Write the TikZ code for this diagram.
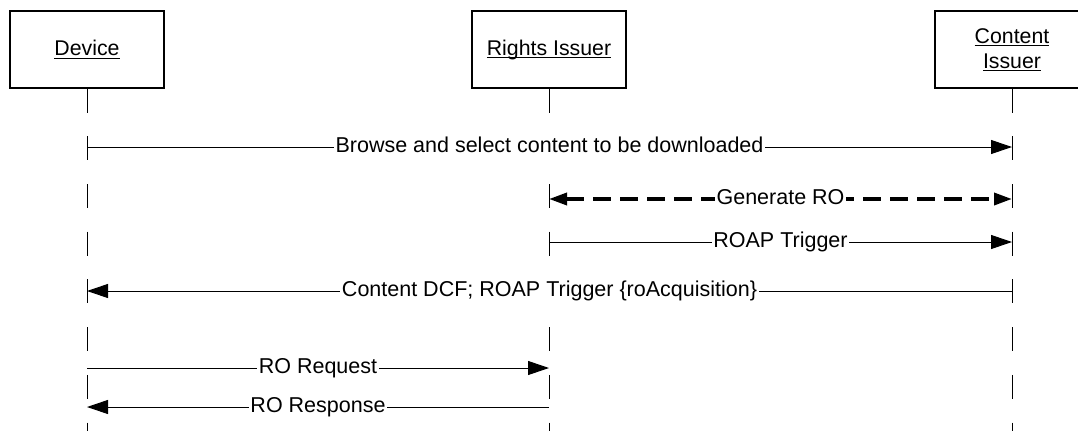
\documentclass[tikz,border=0pt]{standalone}
\usepackage{fontspec}
\setmainfont{Liberation Sans}
\usetikzlibrary{arrows.meta}
\newcommand{\ulined}[1]{\setbox0\hbox{#1}\rlap{\rule[-2.5pt]{\wd0}{0.9pt}}\box0}

\begin{document}
\begin{tikzpicture}[x=1pt,y=-1pt]
\tikzstyle{actor} = [draw=black, line width=1.2pt, minimum width=154pt, minimum height=77pt, align=center, font=\fontsize{21.3}{25}\selectfont]
\tikzstyle{lifeline} = [draw=black, line width=1pt, dash pattern=on 24pt off 23.7pt]
\tikzstyle{msg} = [draw=black, line width=1pt, -{Triangle[length=21pt,width=14pt]}]
\tikzstyle{boldmsg} = [draw=black, line width=3.5pt, dash pattern=on 18pt off 9pt, {Triangle[length=18pt,width=12pt]}-{Triangle[length=18pt,width=12pt]}]
\tikzstyle{msgtext} = [fill=white, inner xsep=1.5pt, inner ysep=2pt, text height=17.5pt, text depth=7.5pt, font=\fontsize{21.5}{25}\selectfont]

\useasboundingbox (0,0) rectangle (1078,431);

\node[actor] (dev) at (87,49.5) {\ulined{Device}};
\node[actor] (ri) at (549,49.5) {\ulined{Rights Issuer}};
\node[actor] (ci) at (1012,49.5) {\ulined{Content}\\\ulined{Issuer}};

\coordinate (end) at (0,431);
\coordinate (m1) at (0,147);
\coordinate (m2) at (0,199);
\coordinate (m3) at (0,242);
\coordinate (m4) at (0,291);
\coordinate (m5) at (0,368);
\coordinate (m6) at (0,407);

\draw[lifeline] (dev.south) -- (dev |- end);
\draw[lifeline] (ri.south) -- (ri |- end);
\draw[lifeline] (ci.south) -- (ci |- end);

\draw[msg] (dev |- m1) to node[msgtext]{Browse and select content to be downloaded} (ci |- m1);
\draw[boldmsg] (ri |- m2) to node[msgtext]{Generate RO} (ci |- m2);
\draw[msg] (ri |- m3) to node[msgtext]{ROAP Trigger} (ci |- m3);
\draw[msg] (ci |- m4) to node[msgtext]{Content DCF; ROAP Trigger \{roAcquisition\}} (dev |- m4);
\draw[msg] (dev |- m5) to node[msgtext]{RO Request} (ri |- m5);
\draw[msg] (ri |- m6) to node[msgtext]{RO Response} (dev |- m6);
\end{tikzpicture}
\end{document}
